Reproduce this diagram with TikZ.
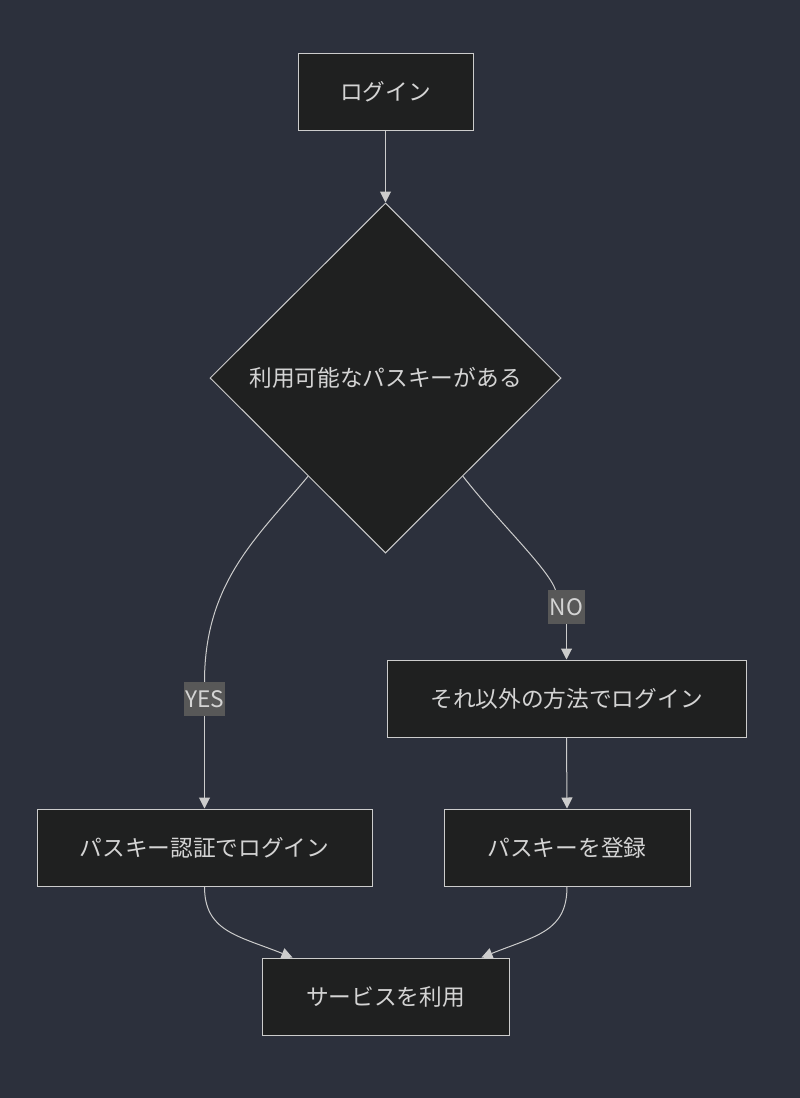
\documentclass[tikz,border=0pt]{standalone}
\usepackage{fontspec}
\setmainfont{Noto Sans CJK JP}
\usepackage{xcolor}
\usepackage{tikz}
\usetikzlibrary{shapes, shapes.geometric, calc, positioning, arrows.meta}
\definecolor{bgcol}{HTML}{2C303C}
\definecolor{nodefill}{HTML}{1F2020}
\definecolor{nodeline}{HTML}{CCCCCC}
\definecolor{txtcol}{HTML}{D4D4D4}
\definecolor{lblfill}{HTML}{585858}

\begin{document}
\begin{tikzpicture}[x=1pt, y=-1pt,
	box/.style={draw=nodeline, fill=nodefill, line width=1pt, text=txtcol, minimum height=77pt, inner sep=0pt, font=\fontsize{22.7}{26}\selectfont},
	decision/.style={diamond, draw=nodeline, fill=nodefill, line width=1pt, text=txtcol, minimum width=351pt, minimum height=350pt, inner sep=0pt, font=\fontsize{22.7}{26}\selectfont},
	lbl/.style={fill=lblfill, text=txtcol, inner xsep=1.5pt, inner ysep=0pt, minimum height=34pt, font=\fontsize{22.7}{26}\selectfont},
	edge/.style={draw=nodeline, line width=1pt},
	arr/.style={edge, -{Triangle[length=11pt, width=11pt]}}]
		\fill[bgcol] (0,0) rectangle (800,1098);
		\useasboundingbox (0,0) rectangle (800,1098);
		
		\node[box, minimum width=175pt] (login) at (385.5,91.5) {ログイン};
		\node[decision] (avail) at (385.5,378) {利用可能なパスキーがある};
		\node[box, minimum width=359pt] (other) at (566.5,698.5) {それ以外の方法でログイン};
		\node[box, minimum width=335pt] (pklogin) at (204.5,847.5) {パスキー認証でログイン};
		\node[box, minimum width=246pt] (register) at (567,847.5) {パスキーを登録};
		\node[box, minimum width=247pt] (service) at (385.5,996.5) {サービスを利用};
		
		\node[lbl] (yes) at (204.5,699) {YES};
		\node[lbl] (no) at (566.5,607) {NO};
		
		\draw[arr] (login.south) -- (avail.north);
		\draw[edge] ($(avail.south west)!0.12!(avail.south)$) .. controls +(-50,60) and +(0,-100) .. (yes.north);
		\draw[arr] (yes.south) -- (pklogin.north);
		\draw[edge] ($(avail.south east)!0.12!(avail.south)$) .. controls +(35,45) and +(-8,-22) .. ([xshift=-11pt]no.north);
		\draw[arr] (no.south) -- (other.north);
		\draw[arr] (other.south) -- (register.north);
		\draw[arr] (pklogin.south) .. controls +(0,45) and +(-55,-22) .. ([xshift=31pt]service.north west);
		\draw[arr] (register.south) .. controls +(0,45) and +(55,-22) .. ([xshift=-28pt]service.north east);
\end{tikzpicture}
\end{document}
